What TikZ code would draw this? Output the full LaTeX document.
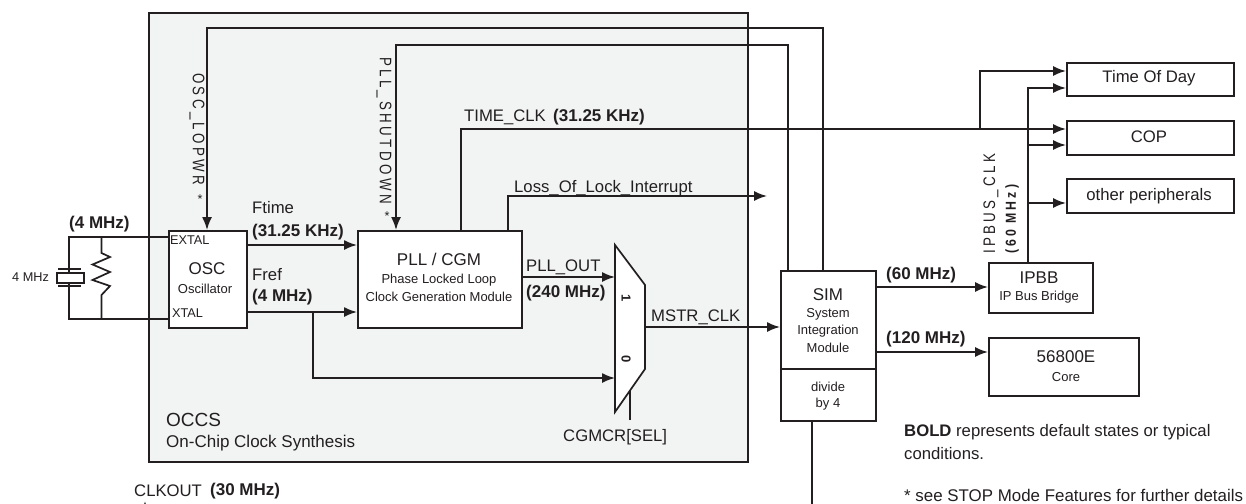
\documentclass[tikz,border=0pt]{standalone}
\usepackage{fontspec}
\setmainfont{Liberation Sans}
\newfontfamily\vfam[FakeStretch=0.8,LetterSpace=20]{Liberation Sans}
\newfontfamily\vbfam[FakeStretch=0.85,LetterSpace=21,UprightFont=*,BoldFont=* Bold]{Liberation Sans}
\usetikzlibrary{arrows.meta}
\definecolor{ink}{HTML}{231F20}
\definecolor{panel}{HTML}{F2F4F4}
\tikzset{
  x=1pt,y=-1pt,
  wire/.style={draw=ink,line width=1.7pt,line join=miter},
  sig/.style={wire,-{Latex[length=13pt,width=10pt]}},
  blockbox/.style={draw=ink,line width=1.7pt,fill=white,inner sep=0pt,anchor=north west,align=center},
  lab/.style={inner sep=0pt,text=ink,font=\fontsize{16.7}{19}\selectfont},
  blab/.style={inner sep=0pt,text=ink,font=\fontsize{17}{19}\selectfont\bfseries},
  sublab/.style={inner sep=0pt,text=ink,font=\fontsize{13}{15}\selectfont},
  biglab/.style={inner sep=0pt,text=ink,font=\fontsize{17}{20}\selectfont},
  pin/.style={inner sep=0pt,text=ink,font=\fontsize{12.7}{15}\selectfont,anchor=west},
  vlab/.style={inner sep=0pt,text=ink,font=\vfam\fontsize{16.7}{19}\selectfont},
  vbold/.style={inner sep=0pt,text=ink,font=\vbfam\fontsize{14.5}{17}\selectfont\bfseries},
}
\begin{document}
\begin{tikzpicture}
\useasboundingbox (0,0) rectangle (1246,503);
\clip (0,0) rectangle (1246,503);
\node[draw=ink,line width=1.7pt,fill=panel,inner sep=0pt,minimum width=599pt,minimum height=449pt,anchor=north west] (occs) at (148,12) {};
\coordinate (ex) at (69,237); \coordinate (xt) at (69,319);
\coordinate (rt) at (101.5,237); \coordinate (rb) at (101.5,319);
\node[blockbox,minimum width=78pt,minimum height=97pt] (osc) at (168,230) {};
\node[blockbox,minimum width=164pt,minimum height=97pt] (pll) at (357,230) {};
\node[blockbox,minimum width=95pt,minimum height=98pt] (sim) at (780,270) {};
\node[blockbox,minimum width=95pt,minimum height=52pt] (div) at (780,368) {};
\node[blockbox,minimum width=104pt,minimum height=50pt] (ipbb) at (988,262) {};
\node[blockbox,minimum width=150pt,minimum height=58pt] (core) at (988,337) {};
\node[blockbox,minimum width=167pt,minimum height=33pt] (tod) at (1066,62) {};
\node[blockbox,minimum width=167pt,minimum height=34pt] (cop) at (1066,120) {};
\node[blockbox,minimum width=167pt,minimum height=34pt] (oth) at (1066,178) {};
\draw[wire,fill=white] (615,245) -- (645,285) -- (645,369) -- (615,412) -- cycle;
\coordinate (muxa) at (615,277); \coordinate (muxb) at (615,378); \coordinate (muxo) at (645,327);
\coordinate (sel) at (630,420); \coordinate (selt) at (630,391);
\draw[wire] (sel) -- (selt);
% crystal and resistor
\draw[wire] (168,237) -- (ex) -- (69,273);
\draw[wire] (69,283) -- (xt) -- (168,319);
\draw[wire] (rt) -- (101.5,253) -- (110,257) -- (92.5,264.5) -- (110,272) -- (92.5,280) -- (110,286) -- (101.5,295) -- (rb);
\draw[wire] (57,273) rectangle (84,283);
\draw[wire] (58,269) -- (81,269);
\draw[wire,line width=2.2pt] (58,286) -- (81,286);
% signals
\draw[sig] (823,270) -- (823,28) -- (207,28) -- (207,230);
\draw[sig] (788,270) -- (788,45) -- (396,45) -- (396,230);
\draw[sig] (246,245) -- (357,245);
\draw[sig] (246,312) -- (357,312);
\draw[sig] (313,312) -- (313,378) -- (muxb);
\draw[sig] (521,277) -- (muxa);
\draw[sig] (muxo) -- (780,327);
\draw[sig] (508,230) -- (508,196) -- (767,196);
\draw[sig] (461,230) -- (461,129) -- (1066,129);
\draw[sig] (980,129) -- (980,71) -- (1066,71);
\draw[sig] (1028,262) -- (1028,88) -- (1066,88);
\draw[sig] (1028,145) -- (1066,145);
\draw[sig] (1028,203) -- (1066,203);
\draw[sig] (875,287) -- (988,287);
\draw[sig] (875,352) -- (988,352);
\draw[sig] (812,420) -- (812,520) -- (145,520) -- (145,501);
% texts
\node[blab,anchor=west] (t4m) at (69,224) {(4 MHz)};
\node[pin] (t4mc) at (12,277) {4 MHz};
\node[pin] (tex) at (170,240) {EXTAL};
\node[pin] (txt) at (172,313) {XTAL};
\node[biglab] (tosc) at (207,269) {OSC};
\node[sublab] (tosc2) at (205,289) {Oscillator};
\node[lab,anchor=west] (tft) at (252,208) {Ftime};
\node[blab,anchor=west] (tft2) at (252,232) {(31.25 KHz)};
\node[lab,anchor=west] (tfr) at (252,275) {Fref};
\node[blab,anchor=west] (tfr2) at (252,297) {(4 MHz)};
\node[biglab] (tpll) at (439,259) {PLL / CGM};
\node[sublab] (tpll2) at (439,280) {Phase Locked Loop};
\node[sublab] (tpll3) at (439,297) {Clock Generation Module};
\node[lab,anchor=west] (tpo) at (526,267) {PLL\_OUT};
\node[blab,anchor=west] (tpo2) at (526,293) {(240 MHz)};
\node[lab,anchor=west] (tms) at (651,317) {MSTR\_CLK};
\node[lab,anchor=west] (tll) at (514,188) {Loss\_Of\_Lock\_Interrupt};
\node[lab,anchor=west] (ttc) at (464,117) {TIME\_CLK};
\node[blab,anchor=west] (ttc2) at (553,117) {(31.25 KHz)};
\node[lab,anchor=west] (tsel) at (563,437) {CGMCR[SEL]};
\node[blab,rotate=-90,font=\fontsize{13}{15}\selectfont\bfseries] (t1) at (626,298) {1};
\node[blab,rotate=-90,font=\fontsize{13}{15}\selectfont\bfseries] (t0) at (626,359) {0};
\node[biglab,anchor=west,font=\fontsize{19}{22}\selectfont] (toc) at (166,420) {OCCS};
\node[lab,anchor=west,font=\fontsize{17}{20}\selectfont] (toc2) at (166,443) {On-Chip Clock Synthesis};
\node[lab,anchor=west] (tck) at (134,491) {CLKOUT};
\node[blab,anchor=west] (tck2) at (210,491) {(30 MHz)};
\node[vlab,rotate=-90,anchor=west] (tos) at (197,73) {OSC\_LOPWR};
\node[pin,anchor=center] (tstar1) at (200,199) {*};
\node[vlab,rotate=-90,anchor=west] (tps) at (384,57) {PLL\_SHUTDOWN};
\node[pin,anchor=center] (tstar2) at (387,216) {*};
\node[vlab,rotate=90,anchor=west] (tib) at (991,254) {IPBUS\_CLK};
\node[vbold,rotate=90,anchor=west] (tib2) at (1012,254) {(60 MHz)};
\node[lab] (ttod) at (1149,78) {Time Of Day};
\node[lab] (tcop) at (1149,137) {COP};
\node[lab] (toth) at (1149,196) {other peripherals};
\node[biglab] (tipb) at (1039,278) {IPBB};
\node[sublab] (tipb2) at (1039,297) {IP Bus Bridge};
\node[blab,anchor=west] (t60) at (886,275) {(60 MHz)};
\node[blab,anchor=west] (t120) at (886,339) {(120 MHz)};
\node[biglab] (tcor) at (1066,357) {56800E};
\node[sublab] (tcor2) at (1066,377) {Core};
\node[biglab] (tsim) at (828,295) {SIM};
\node[sublab] (ts1) at (828,314) {System};
\node[sublab] (ts2) at (828,331) {Integration};
\node[sublab] (ts3) at (828,348) {Module};
\node[sublab] (td1) at (828,387) {divide};
\node[sublab] (td2) at (828,404) {by 4};
\node[lab,anchor=west] (tn1) at (904,432) {\textbf{BOLD} represents default states or typical};
\node[lab,anchor=west] (tn2) at (904,454) {conditions.};
\node[lab,anchor=west,font=\fontsize{16.9}{19}\selectfont] (tn3) at (904,495.5) {* see STOP Mode Features for further details};
\end{tikzpicture}
\end{document}
